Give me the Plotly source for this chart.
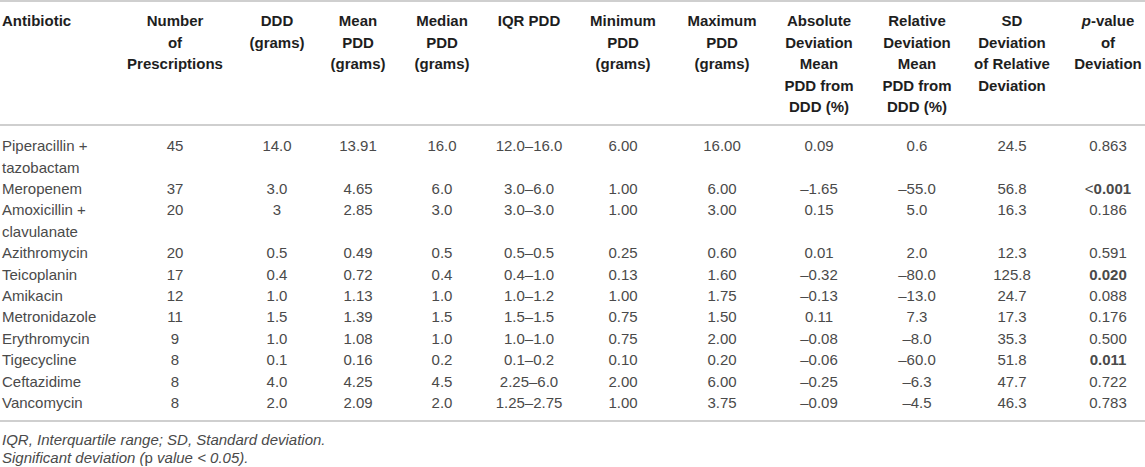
import plotly.graph_objects as go

# table contents
antibiotics = ["Piperacillin +<br>tazobactam", "Meropenem", "Amoxicillin +<br>clavulanate",
               "Azithromycin", "Teicoplanin", "Amikacin", "Metronidazole", "Erythromycin",
               "Tigecycline", "Ceftazidime", "Vancomycin"]
n_prescriptions = ["45", "37", "20", "20", "17", "12", "11", "9", "8", "8", "8"]
ddd = ["14.0", "3.0", "3", "0.5", "0.4", "1.0", "1.5", "1.0", "0.1", "4.0", "2.0"]
mean_pdd = ["13.91", "4.65", "2.85", "0.49", "0.72", "1.13", "1.39", "1.08", "0.16", "4.25", "2.09"]
median_pdd = ["16.0", "6.0", "3.0", "0.5", "0.4", "1.0", "1.5", "1.0", "0.2", "4.5", "2.0"]
iqr_pdd = ["12.0–16.0", "3.0–6.0", "3.0–3.0", "0.5–0.5", "0.4–1.0", "1.0–1.2", "1.5–1.5",
           "1.0–1.0", "0.1–0.2", "2.25–6.0", "1.25–2.75"]
min_pdd = ["6.00", "1.00", "1.00", "0.25", "0.13", "1.00", "0.75", "0.75", "0.10", "2.00", "1.00"]
max_pdd = ["16.00", "6.00", "3.00", "0.60", "1.60", "1.75", "1.50", "2.00", "0.20", "6.00", "3.75"]
abs_dev = ["0.09", "–1.65", "0.15", "0.01", "–0.32", "–0.13", "0.11", "–0.08", "–0.06", "–0.25", "–0.09"]
rel_dev = ["0.6", "–55.0", "5.0", "2.0", "–80.0", "–13.0", "7.3", "–8.0", "–60.0", "–6.3", "–4.5"]
sd_rel = ["24.5", "56.8", "16.3", "12.3", "125.8", "24.7", "17.3", "35.3", "51.8", "47.7", "46.3"]
p_value = ["0.863", "<0.001", "0.186", "0.591", "0.020", "0.088", "0.176", "0.500", "0.011", "0.722", "0.783"]

headers = ["Antibiotic", "Number<br>of<br>Prescriptions", "DDD<br>(grams)", "Mean<br>PDD<br>(grams)",
           "Median<br>PDD<br>(grams)", "IQR PDD", "Minimum<br>PDD<br>(grams)", "Maximum<br>PDD<br>(grams)",
           "Absolute<br>Deviation<br>Mean<br>PDD from<br>DDD (%)",
           "Relative<br>Deviation<br>Mean<br>PDD from<br>DDD (%)",
           "SD<br>Deviation<br>of Relative<br>Deviation", "<i>p</i>-value<br>of<br>Deviation"]

footnotes = ["<i>IQR, Interquartile range; SD, Standard deviation.</i>",
             "<i>Significant deviation (</i>p<i> value &lt; 0.05).</i>"]

# layout (pixel units, y downwards)
W, H = 1145, 467
col_x = [2, 175, 277, 358, 442, 529, 623, 722, 819, 917, 1012, 1108]
head_y0, head_pitch = 22.5, 21.5
body_y0, body_pitch = 147.5, 21.4
rules_y = [1, 125, 421]
foot_y = [441, 459]
FONT = "Liberation Sans, Arial, sans-serif"
BODY_COL = "#4a4a4a"
HEAD_COL = "#1e1e1e"


def fmt_p(v):
    num = float(v.lstrip("<"))
    if num < 0.05:
        if v.startswith("<"):
            return "&lt;<b>" + v[1:] + "</b>"
        return "<b>" + v + "</b>"
    return v


value_cols = [n_prescriptions, ddd, mean_pdd, median_pdd, iqr_pdd, min_pdd, max_pdd,
              abs_dev, rel_dev, sd_rel, [fmt_p(p) for p in p_value]]

fig = go.Figure()

# header
hx, hy, ht = [], [], []
for j, h in enumerate(headers):
    for k, line in enumerate(h.split("<br>")):
        hx.append(col_x[j])
        hy.append(head_y0 + k * head_pitch)
        ht.append("<b>" + line + "</b>")
fig.add_trace(go.Scatter(x=hx[1:], y=hy[1:], text=ht[1:], mode="text",
                         textposition="middle center",
                         textfont=dict(family=FONT, size=15, color=HEAD_COL),
                         hoverinfo="skip", showlegend=False))
fig.add_trace(go.Scatter(x=hx[:1], y=hy[:1], text=ht[:1], mode="text",
                         textposition="middle right",
                         textfont=dict(family=FONT, size=15, color=HEAD_COL),
                         hoverinfo="skip", showlegend=False))

# body
nx, ny, nt = [], [], []
vx, vy, vt = [], [], []
line = 0
for i, name in enumerate(antibiotics):
    parts = name.split("<br>")
    for k, p in enumerate(parts):
        nx.append(col_x[0])
        ny.append(body_y0 + (line + k) * body_pitch)
        nt.append(p)
    for j, col in enumerate(value_cols):
        vx.append(col_x[j + 1])
        vy.append(body_y0 + line * body_pitch)
        vt.append(col[i])
    line += len(parts)

fig.add_trace(go.Scatter(x=nx, y=ny, text=nt, mode="text", textposition="middle right",
                         textfont=dict(family=FONT, size=15, color=BODY_COL),
                         hoverinfo="skip", showlegend=False))
fig.add_trace(go.Scatter(x=vx, y=vy, text=vt, mode="text", textposition="middle center",
                         textfont=dict(family=FONT, size=15, color=BODY_COL),
                         hoverinfo="skip", showlegend=False))

# footnotes
fig.add_trace(go.Scatter(x=[col_x[0]] * len(footnotes), y=foot_y, text=footnotes, mode="text",
                         textposition="middle right",
                         textfont=dict(family=FONT, size=15, color=BODY_COL),
                         hoverinfo="skip", showlegend=False))

for ry in rules_y:
    fig.add_shape(type="line", x0=0, x1=W, y0=ry, y1=ry, xref="x", yref="y",
                  line=dict(color="#cfcfcf", width=2))

fig.update_xaxes(range=[0, W], visible=False, fixedrange=True)
fig.update_yaxes(range=[H, 0], visible=False, fixedrange=True)
fig.update_layout(width=W, height=H, margin=dict(l=0, r=0, t=0, b=0),
                  plot_bgcolor="white", paper_bgcolor="white")

# page body has a default margin; drop it so the figure fills the window
fig.write_html("out.html", config={"displayModeBar": False},
               post_script="document.body.style.margin='0';")
